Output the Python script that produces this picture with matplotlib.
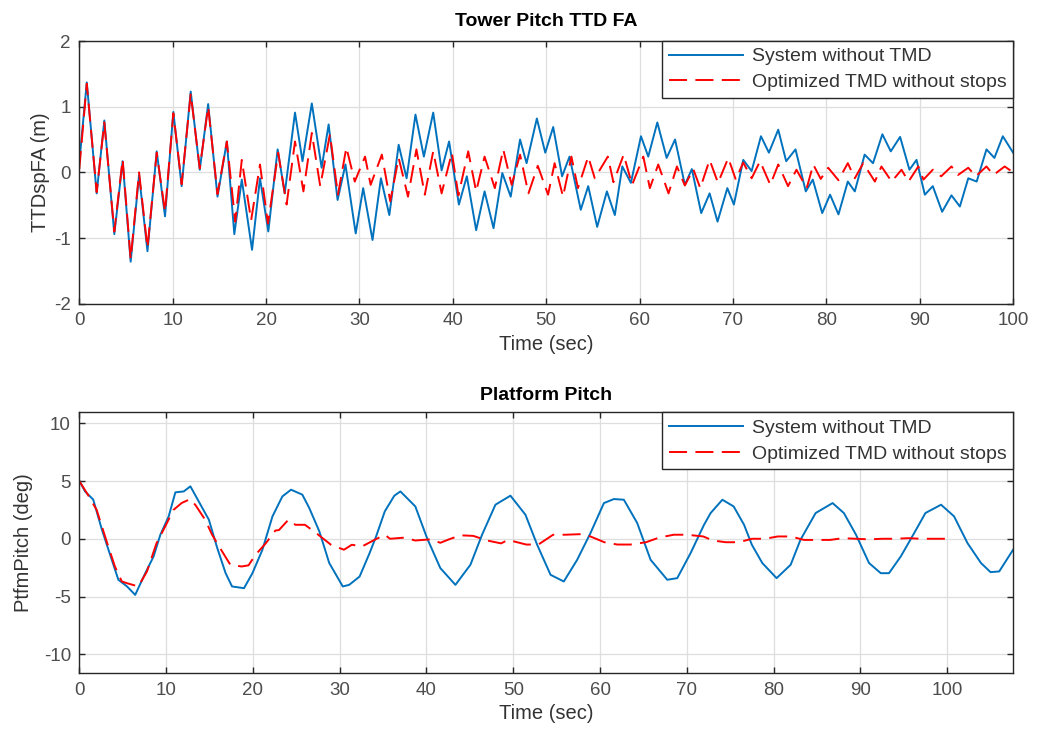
import numpy as np
import matplotlib
matplotlib.use("Agg")
import matplotlib.pyplot as plt

# ---- data (peaks / troughs of each trace) ----
# Tower Pitch TTD FA, system without TMD
tt_sys = [0, 0.8, 1.86, 2.68, 3.75, 4.64, 5.5, 6.4, 7.3, 8.29, 9.18, 10.07, 10.96,
          11.93, 12.9, 13.8, 14.8, 15.8, 16.6, 17.4, 18.5, 19.35, 20.24, 21.24, 22.0,
          23.1, 23.9, 24.9, 25.95, 26.7, 27.66, 28.5, 29.6, 30.4, 31.4, 32.3, 33.2,
          34.2, 35.05, 36.0, 36.9, 37.9, 38.8, 39.6, 40.65, 41.5, 42.5, 43.4, 44.36,
          45.3, 46.2, 47.2, 47.9, 49.0, 49.9, 50.75, 51.7, 52.5, 53.7, 54.5, 55.46,
          56.5, 57.35, 58.15, 59.07, 60.15, 60.93, 61.9, 62.9, 63.8, 64.85, 65.6,
          66.6, 67.5, 68.35, 69.4, 70.1, 71.1, 72.0, 73.0, 73.85, 74.85, 75.7, 76.7,
          77.8, 78.55, 79.56, 80.4, 81.3, 82.3, 83.05, 84.1, 85.0, 86.0, 86.9, 87.9,
          88.9, 89.66, 90.55, 91.4, 92.4, 93.4, 94.3, 95.2, 96.1, 97.15, 98.0, 98.9, 100]
ttd_sys = [0.15, 1.37, -0.32, 0.79, -0.94, 0.17, -1.36, -0.04, -1.2, 0.32, -0.67, 0.92,
           -0.21, 1.23, 0.04, 1.04, -0.37, 0.47, -0.94, -0.11, -1.18, -0.09, -0.9, 0.35,
           -0.32, 0.91, 0.17, 1.05, 0.07, 0.73, -0.42, 0.12, -0.93, -0.24, -1.03, -0.09,
           -0.65, 0.42, -0.09, 0.88, 0.24, 0.91, 0.03, 0.47, -0.49, -0.06, -0.88, -0.29,
           -0.85, -0.01, -0.37, 0.5, 0.14, 0.82, 0.3, 0.69, -0.06, 0.24, -0.57, -0.21,
           -0.83, -0.29, -0.65, 0.09, -0.16, 0.55, 0.24, 0.76, 0.22, 0.5, -0.19, 0.05,
           -0.62, -0.32, -0.75, -0.24, -0.49, 0.19, 0.02, 0.55, 0.3, 0.65, 0.17, 0.35,
           -0.29, -0.11, -0.62, -0.34, -0.64, -0.14, -0.29, 0.27, 0.14, 0.58, 0.32, 0.54,
           0.04, 0.19, -0.34, -0.21, -0.6, -0.35, -0.52, -0.09, -0.14, 0.35, 0.22, 0.55, 0.3]

# Tower Pitch TTD FA, optimized TMD without stops
tt_tmd = [0, 0.8, 1.86, 2.68, 3.75, 4.64, 5.5, 6.4, 7.3, 8.29, 9.18, 10.07, 10.96,
          11.93, 12.9, 13.8, 14.8, 15.8, 16.7, 17.4, 18.4, 19.35, 20.2, 21.3, 22.2,
          23.1, 24.0, 24.9, 25.8, 26.84, 27.7, 28.6, 29.5, 30.6, 31.2, 32.4, 33.3,
          34.2, 35.2, 36.1, 37.0, 37.9, 38.8, 39.9, 40.6, 41.65, 42.5, 43.4, 44.5,
          45.4, 46.3, 47.2, 48.1, 49.1, 50.2, 50.9, 51.8, 52.7, 53.4, 54.5, 55.2,
          56.6, 57.2, 58.3, 59.2, 60.4, 61.1, 62.0, 63.1, 64.0, 64.85, 65.75, 66.5,
          67.5, 68.4, 69.5, 70.3, 71.1, 72.0, 72.9, 74.0, 74.85, 75.9, 76.8, 77.9,
          78.6, 79.4, 80.2, 81.3, 82.3, 83.05, 83.95, 85.2, 85.9, 87.0, 88.05, 88.8,
          89.85, 90.4, 91.4, 92.3, 93.4, 94.1, 95.2, 96.0, 97.15, 97.9, 99.1, 100]
ttd_tmd = [0.05, 1.35, -0.3, 0.76, -0.9, 0.2, -1.32, 0.0, -1.15, 0.3, -0.6, 0.9,
           -0.18, 1.2, 0.06, 1.0, -0.33, 0.47, -0.75, 0.19, -0.73, 0.12, -0.78, 0.3,
           -0.49, 0.47, -0.29, 0.6, -0.21, 0.58, -0.34, 0.38, -0.14, 0.24, -0.19, 0.27,
           -0.44, 0.22, -0.37, 0.35, -0.34, 0.32, -0.32, 0.3, -0.35, 0.32, -0.29, 0.24,
           -0.24, 0.35, -0.19, 0.27, -0.32, 0.1, -0.34, 0.14, -0.37, 0.24, -0.24, 0.24,
           -0.09, 0.24, -0.15, 0.27, -0.19, 0.24, -0.24, 0.12, -0.32, 0.09, -0.2, 0.05,
           -0.24, 0.19, -0.16, 0.22, -0.11, 0.15, -0.09, 0.17, -0.19, 0.12, -0.21, 0.04,
           -0.24, 0.12, -0.1, 0.07, -0.12, 0.14, -0.09, 0.14, -0.14, 0.09, -0.14, 0.04,
           -0.14, 0.09, -0.11, 0.04, -0.06, 0.09, -0.04, 0.07, -0.06, 0.09, -0.04, 0.09, 0.0]

# Platform Pitch, system without TMD
tp_sys = [0, 0.66, 1.6, 2.6, 3.36, 4.5, 5.5, 6.44, 7.6, 8.56, 9.34, 10.3, 11.07, 12.04,
          12.8, 13.97, 14.93, 15.9, 16.86, 17.6, 18.98, 19.95, 21.1, 22.26, 23.4, 24.4,
          25.7, 26.5, 27.66, 28.8, 30.36, 31.1, 32.3, 33.45, 34.2, 35.2, 36.3, 37.0,
          38.72, 40.07, 41.6, 43.34, 45.07, 46.41, 47.95, 49.68, 51.41, 52.76, 54.3,
          55.83, 57.37, 58.9, 60.45, 61.6, 62.75, 64.29, 65.83, 67.75, 68.9, 70.44,
          71.98, 72.75, 74.1, 75.4, 76.6, 77.5, 78.7, 80.35, 81.97, 83.1, 84.85, 86.8,
          88.1, 89.5, 91.0, 92.35, 93.3, 94.66, 96.2, 97.5, 99.3, 100.8, 102.35, 103.9,
          105.0, 106.0, 107.6]
pp_sys = [5.03, 4.1, 3.4, 0.8, -0.95, -3.55, -4.13, -4.86, -2.98, -1.53, 0.35, 1.94,
          4.02, 4.1, 4.54, 2.95, 1.65, -0.81, -2.98, -4.13, -4.28, -2.98, -0.95, 1.94,
          3.67, 4.25, 3.82, 2.66, 0.64, -2.1, -4.13, -3.99, -3.27, -1.24, 0.2, 2.37,
          3.73, 4.1, 2.8, 0.06, -2.54, -3.99, -2.25, 0.35, 2.95, 3.73, 2.08, -0.52,
          -3.12, -3.7, -1.82, 0.49, 3.09, 3.44, 3.38, 1.36, -1.82, -3.55, -3.41, -1.24,
          1.2, 2.23, 3.38, 2.8, 1.21, -0.52, -2.1, -3.41, -2.25, -0.09, 2.23, 3.09,
          2.23, 0.35, -2.1, -2.98, -2.98, -1.53, 0.49, 2.23, 2.95, 1.94, -0.38, -2.1,
          -2.89, -2.83, -0.95]

# Platform Pitch, optimized TMD without stops
tp_tmd = [0, 1.0, 2.0, 3.15, 4.1, 4.9, 5.5, 6.8, 7.8, 8.9, 9.9, 10.85, 11.8, 12.8,
          13.4, 14.5, 15.3, 16.1, 17.4, 18.7, 19.5, 20.3, 21.5, 22.6, 23.0, 24.1, 24.9,
          26.0, 27.3, 29.0, 30.5, 31.4, 32.6, 33.9, 35.2, 35.8, 37.5, 38.7, 40.5, 41.6,
          42.6, 43.9, 45.4, 47.0, 48.6, 49.4, 51.5, 52.9, 54.6, 56.0, 57.8, 58.9, 60.5,
          62.0, 63.5, 65.3, 66.8, 68.5, 70.0, 71.9, 73.0, 74.5, 76.0, 77.5, 79.0, 80.5,
          82.0, 83.5, 85.0, 86.5, 88.0, 89.5, 91.0, 92.5, 94.0, 95.5, 97.0, 98.5, 100]
pp_tmd = [5.0, 3.8, 2.5, -0.23, -2.4, -3.7, -3.85, -4.13, -2.83, -0.38, 1.07, 2.5, 3.1,
          3.44, 2.9, 1.65, 0.35, -0.66, -2.25, -2.4, -2.3, -1.39, -0.38, 0.72, 0.75,
          1.65, 1.21, 1.21, 0.49, -0.52, -0.95, -0.52, -0.66, -0.14, 0.35, 0.0, 0.1,
          -0.15, -0.05, -0.35, -0.05, 0.3, 0.25, -0.15, -0.4, -0.1, -0.5, -0.5, 0.35,
          0.35, 0.4, 0.2, -0.3, -0.5, -0.5, -0.3, 0.1, 0.35, 0.35, 0.2, -0.15, -0.3,
          -0.3, 0.0, 0.0, 0.2, 0.2, -0.1, -0.1, -0.1, 0.05, 0.0, -0.05, 0.0, 0.0, 0.05,
          0.0, 0.0, 0.0]

xticks = list(range(0, 101, 10))
legend_labels = ["System without TMD", "Optimized TMD without stops"]

plt.rcParams["font.family"] = ["Liberation Sans", "DejaVu Sans"]
plt.rcParams["lines.scale_dashes"] = False
plt.rcParams["axes.unicode_minus"] = False
dark = "#262626"
blue = "#0072BD"

fig = plt.figure(figsize=(10.38, 7.42), dpi=100)
ax1 = fig.add_axes([0.0764, 0.5907, 0.8996, 0.3540])
ax2 = fig.add_axes([0.0764, 0.0926, 0.8996, 0.3517])


def style(ax):
    ax.grid(True, color="#dedede", linewidth=0.9)
    ax.set_axisbelow(True)
    for s in ax.spines.values():
        s.set_color(dark)
        s.set_linewidth(1.0)
    ax.tick_params(direction="in", top=True, right=True, length=4, width=1.0,
                   colors=dark, labelsize=13.5, labelcolor="#4d4d4d", pad=6)


ax1.plot(tt_sys, ttd_sys, color=blue, lw=1.4, label=legend_labels[0])
ax1.plot(tt_tmd, ttd_tmd, color="r", lw=1.4, ls="--", dashes=(13, 6), label=legend_labels[1])
ax1.set_xlim(0, 100)
ax1.set_ylim(-2, 2)
ax1.set_xticks(xticks)
ax1.set_yticks([-2, -1, 0, 1, 2])
style(ax1)
ax1.set_title("Tower Pitch TTD FA", fontsize=14, fontweight="bold", color="black", pad=11)
ax1.set_xlabel("Time (sec)", fontsize=14.5, color="#333333", labelpad=4)
ax1.set_ylabel("TTDspFA (m)", fontsize=14.5, color="#333333", labelpad=3)

ax2.plot(tp_sys, pp_sys, color=blue, lw=1.4, label=legend_labels[0])
ax2.plot(tp_tmd, pp_tmd, color="r", lw=1.4, ls="--", dashes=(13, 6), label=legend_labels[1])
ax2.set_xlim(0, 107.6)
ax2.set_ylim(-11.65, 10.95)
ax2.set_xticks(xticks)
ax2.set_yticks([-10, -5, 0, 5, 10])
style(ax2)
ax2.set_title("Platform Pitch", fontsize=14, fontweight="bold", color="black", pad=9)
ax2.set_xlabel("Time (sec)", fontsize=14.5, color="#333333", labelpad=4)
ax2.set_ylabel("PtfmPitch (deg)", fontsize=14.5, color="#333333", labelpad=8)

for ax in (ax1, ax2):
    leg = ax.legend(loc="upper right", borderaxespad=0, fontsize=14, fancybox=False,
                    framealpha=1, edgecolor=dark, handlelength=3.8, handletextpad=0.45,
                    labelspacing=0.42, borderpad=0.35)
    leg.get_frame().set_linewidth(1.0)
    for t in leg.get_texts():
        t.set_color("#333333")

fig.savefig("out.png", dpi=100)
